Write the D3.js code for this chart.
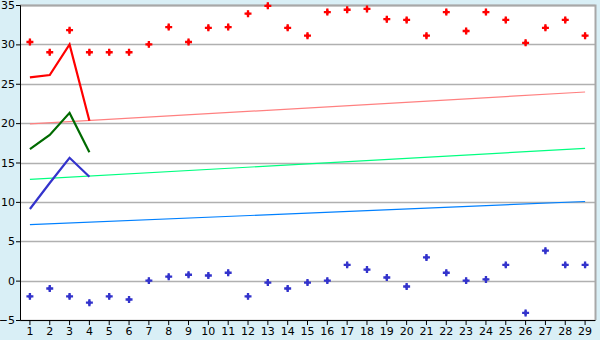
<!DOCTYPE html>
<html lang="en">
<head>
<meta charset="UTF-8">
<title>Chart</title>
<script src="https://d3js.org/d3.v7.min.js"></script>
<style>
  body { margin: 0; background: #d9eff6; }
  svg { display: block; }
  .tick text { font-family: "DejaVu Sans", sans-serif; font-size: 11px; fill: #000; }
  .grid line { stroke: #b0b0b0; }
</style>
</head>
<body>
<script>
  // categories and series
  var categories = d3.range(1, 30);
  var redPoints = [30.3, 29, 31.8, 29, 29, 29, 30, 32.2, 30.3, 32.1, 32.2, 33.9, 34.9, 32.1, 31.1,
                   34.1, 34.4, 34.5, 33.2, 33.1, 31.1, 34.1, 31.7, 34.1, 33.1, 30.2, 32.1, 33.1, 31.1];
  var bluePoints = [-2, -1, -2, -2.8, -2, -2.4, 0, 0.5, 0.75, 0.65, 1, -2, -0.25, -1, -0.25,
                    0, 2, 1.4, 0.4, -0.75, 2.95, 1, 0, 0.15, 2, -4.1, 3.8, 2, 2];
  var redLine = [25.8, 26.1, 30, 20.3];
  var greenLine = [16.7, 18.5, 21.3, 16.3];
  var blueLine = [9.1, 12.4, 15.6, 13.2];
  // straight trend lines: [value at first category, value at last category]
  var redTrend = [19.9, 23.95];
  var greenTrend = [12.85, 16.8];
  var blueTrend = [7.1, 10.05];
  var yTicks = [-5, 0, 5, 10, 15, 20, 25, 30, 35];

  var W = 600, H = 340;
  var margin = {top: 5, right: 5, bottom: 20, left: 20};

  var svg = d3.select("body").append("svg")
      .attr("width", W)
      .attr("height", H);

  var x = d3.scaleBand().domain(categories).range([margin.left, W - margin.right]);
  var y = d3.scaleLinear().domain([-5, 35]).range([H - margin.bottom, margin.top]);
  var cx = d => x(d) + x.bandwidth() / 2;

  // plot background
  svg.append("rect")
      .attr("x", margin.left).attr("y", margin.top)
      .attr("width", W - margin.left - margin.right)
      .attr("height", H - margin.top - margin.bottom)
      .attr("fill", "#fff");

  // gridlines
  svg.append("g").attr("class", "grid")
    .selectAll("line").data(yTicks).join("line")
      .attr("x1", margin.left).attr("x2", W - margin.right)
      .attr("y1", d => Math.round(y(d)) + 0.5).attr("y2", d => Math.round(y(d)) + 0.5)
      .attr("stroke-width", 1.5);

  // right and top border
  svg.append("path")
      .attr("d", "M" + margin.left + "," + (margin.top + 0.5) + "H" + (W - margin.right + 0.5) + "V" + (H - margin.bottom))
      .attr("fill", "none").attr("stroke", "#a8a8a8").attr("stroke-width", 2);

  // trend lines
  function trend(vals, color) {
    svg.append("line")
        .attr("x1", cx(categories[0])).attr("y1", y(vals[0]))
        .attr("x2", cx(categories[categories.length - 1])).attr("y2", y(vals[1]))
        .attr("stroke", color).attr("stroke-width", 1.2);
  }
  trend(redTrend, "#ff8080");
  trend(greenTrend, "#00ff80");
  trend(blueTrend, "#0080ff");

  // thick lines
  var line = d3.line().x((d, i) => cx(categories[i])).y(d => y(d));
  function series(vals, color) {
    svg.append("path").datum(vals)
        .attr("d", line)
        .attr("fill", "none").attr("stroke", color).attr("stroke-width", 2.2);
  }
  series(redLine, "#ff0000");
  series(greenLine, "#006a00");
  series(blueLine, "#3333cc");

  // markers: a small plus over a diamond
  var cross = d3.symbol().type(d3.symbolCross).size(27);
  var diamond = d3.symbol().type(d3.symbolDiamond).size(14);
  function markers(vals, color) {
    var g = svg.append("g").selectAll("g").data(vals).join("g")
        .attr("transform", (d, i) => "translate(" + cx(categories[i]) + "," + y(d) + ")")
        .attr("fill", color);
    g.append("path").attr("d", cross);
    g.append("path").attr("d", diamond);
  }
  markers(redPoints, "#ff0000");
  markers(bluePoints, "#3333cc");

  // axes
  svg.append("g")
      .attr("transform", "translate(" + margin.left + ",0)")
      .call(d3.axisLeft(y).tickValues(yTicks).tickSize(4).tickPadding(1))
      .call(g => g.select(".domain").attr("stroke", "#000"));

  svg.append("g")
      .attr("transform", "translate(0," + (H - margin.bottom) + ")")
      .call(d3.axisBottom(x).tickSize(5).tickSizeOuter(0).tickPadding(2))
      .call(g => g.select(".domain").attr("stroke", "#000"));
</script>
</body>
</html>
